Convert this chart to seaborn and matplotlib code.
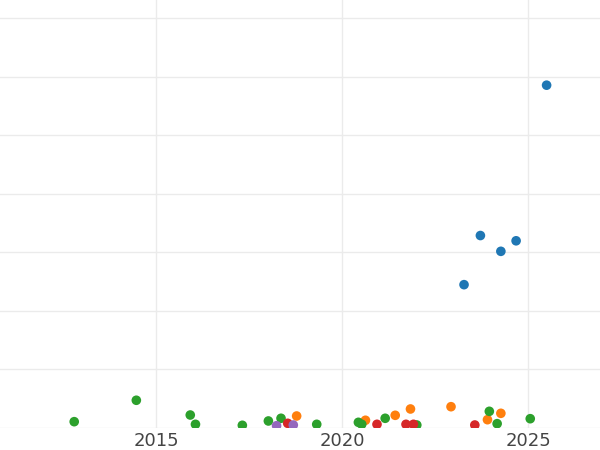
import pandas as pd
import seaborn as sns
import matplotlib.pyplot as plt
from matplotlib.ticker import MultipleLocator, FormatStrFormatter

# decimal years and values
blue_x = [2025.50, 2023.72, 2024.68, 2024.27, 2023.28]
blue_y = [58.6, 32.9, 32.0, 30.2, 24.5]

green_x = [2012.80, 2014.47, 2015.92, 2016.06, 2017.32, 2018.02, 2018.36,
           2019.32, 2020.44, 2020.53, 2021.16, 2022.01, 2023.96, 2024.17,
           2025.06]
green_y = [1.08, 4.74, 2.22, 0.63, 0.46, 1.20, 1.66,
           0.63, 0.97, 0.63, 1.66, 0.51, 2.85, 0.74,
           1.59]

orange_x = [2018.78, 2020.63, 2021.43, 2021.84, 2022.93, 2023.91, 2024.27]
orange_y = [2.05, 1.32, 2.17, 3.25, 3.64, 1.42, 2.51]

red_x = [2018.54, 2020.94, 2021.72, 2021.92, 2023.57]
red_y = [0.80, 0.63, 0.63, 0.63, 0.51]

purple_x = [2018.24, 2018.69]
purple_y = [0.39, 0.51]

groups = ['A', 'B', 'C', 'D', 'E']


def build():
    parts = []
    for g, xs, ys in zip(groups,
                         [blue_x, orange_x, green_x, red_x, purple_x],
                         [blue_y, orange_y, green_y, red_y, purple_y]):
        parts.append(pd.DataFrame({'year': xs, 'value': ys, 'group': g}))
    return pd.concat(parts, ignore_index=True)


def main():
    data = build()
    sns.set_style('white')
    fig = plt.figure(figsize=(6, 4.5), dpi=100)
    # axes runs past the figure edges on the left, top and right
    ax = fig.add_axes([-0.0313, 0.0489, 1.0973, 1.04])
    sns.scatterplot(data=data, x='year', y='value', hue='group',
                    hue_order=groups, palette='tab10', s=48, linewidth=0,
                    legend=False, ax=ax, zorder=3)
    ax.set_xlim(2010.3, 2028)
    ax.set_ylim(0, 80)
    ax.xaxis.set_major_locator(MultipleLocator(5))
    ax.xaxis.set_major_formatter(FormatStrFormatter('%d'))
    ax.yaxis.set_major_locator(MultipleLocator(10))
    ax.grid(True, color='#ebebeb', linewidth=1)
    ax.set_axisbelow(True)
    for s in ax.spines.values():
        s.set_visible(False)
    ax.tick_params(axis='x', length=0, labelsize=13, labelcolor='#444444',
                   pad=3)
    ax.tick_params(axis='y', length=0, labelleft=False)
    ax.set_xlabel('')
    ax.set_ylabel('')
    fig.savefig('out.png', dpi=100)


if __name__ == '__main__':
    main()
